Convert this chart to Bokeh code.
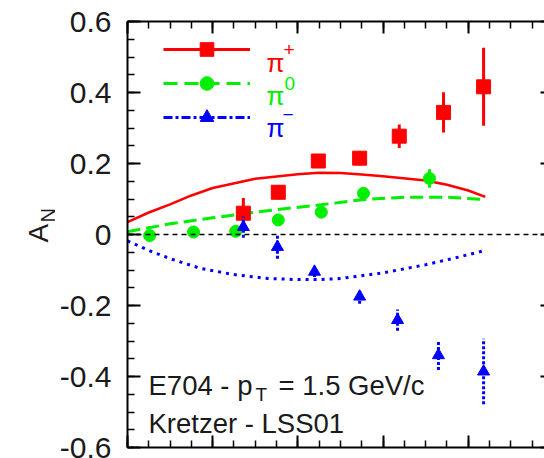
import numpy as np
from bokeh.plotting import figure
from bokeh.layouts import row
from bokeh.models import (Range1d, LinearAxis, FixedTicker, Span, Label,
                          Legend, LegendItem, CustomJSTickFormatter)
from bokeh.embed import file_html
from bokeh.resources import INLINE

# ---------------- data ----------------
pip_x = [0.272, 0.354, 0.448, 0.545, 0.638, 0.742, 0.836]
pip_y = [0.060, 0.119, 0.207, 0.215, 0.277, 0.344, 0.416]
pip_err = [0.043, 0.020, 0.020, 0.020, 0.033, 0.057, 0.110]

pi0_x = [0.052, 0.155, 0.254, 0.354, 0.455, 0.554, 0.709]
pi0_y = [-0.003, 0.007, 0.009, 0.041, 0.063, 0.116, 0.158]
pi0_err = [0.010, 0.010, 0.010, 0.010, 0.010, 0.010, 0.026]

pim_x = [0.272, 0.352, 0.439, 0.545, 0.634, 0.730, 0.836]
pim_y = [0.021, -0.035, -0.105, -0.175, -0.241, -0.340, -0.386]
pim_err = [0.030, 0.033, 0.015, 0.020, 0.030, 0.042, 0.092]

# model curves (Kretzer - LSS01)
curve_pip_x = [0.0, 0.05, 0.10, 0.15, 0.20, 0.30, 0.40, 0.45, 0.50, 0.55, 0.60, 0.70, 0.75, 0.80, 0.84]
curve_pip_y = [0.035, 0.062, 0.085, 0.110, 0.131, 0.157, 0.170, 0.174, 0.173, 0.169, 0.164, 0.152, 0.140, 0.124, 0.106]

curve_pi0_x = [0.0, 0.10, 0.20, 0.30, 0.35, 0.45, 0.55, 0.65, 0.75, 0.83]
curve_pi0_y = [0.008, 0.030, 0.047, 0.063, 0.070, 0.083, 0.098, 0.105, 0.105, 0.099]

curve_pim_x = [0.0, 0.05, 0.10, 0.17, 0.25, 0.33, 0.40, 0.45, 0.50, 0.60, 0.70, 0.78, 0.835]
curve_pim_y = [-0.018, -0.045, -0.068, -0.095, -0.113, -0.124, -0.127, -0.127, -0.124, -0.108, -0.085, -0.063, -0.046]

ytick_values = [-0.6, -0.4, -0.2, 0.0, 0.2, 0.4, 0.6]
ytick_labels = ["-0.6", "-0.4", "-0.2", "0", "0.2", "0.4", "0.6"]
xtick_values = [0.0, 0.2, 0.4, 0.6, 0.8, 1.0]

# ---------------- styling ----------------
RED = "#ff0000"
GREEN = "#00ee00"
BLUE = "#0000ff"
FONT = "Liberation Sans"
TXT = "#1a1a1a"

SIDE_W = 55
p = figure(width=544 - SIDE_W, height=458, output_backend="svg", toolbar_location=None,
           title=None, x_range=Range1d(0.0, 0.979), y_range=Range1d(-0.6, 0.6),
           min_border_left=127 - SIDE_W, min_border_right=0, min_border_top=21,
           min_border_bottom=11, background_fill_color="white",
           border_fill_color="white")
p.outline_line_color = None
p.xgrid.visible = False
p.ygrid.visible = False

yminor = list(np.round(np.arange(-0.6, 0.6001, 0.05), 2))
xminor = list(np.round(np.arange(0.0, 1.0001, 0.05), 2))
blank = CustomJSTickFormatter(code="return ''")


def style_axis(ax, ticks, minor, labels=False, line=True, major_in=12, minor_in=7):
    ax.ticker = FixedTicker(ticks=ticks, minor_ticks=minor)
    ax.axis_line_color = "black" if line else None
    ax.axis_line_width = 2
    ax.major_tick_in = major_in
    ax.major_tick_out = 0
    ax.minor_tick_in = minor_in
    ax.minor_tick_out = 0
    ax.major_tick_line_width = 2
    ax.minor_tick_line_width = 1.5
    ax.major_tick_line_color = "black"
    ax.minor_tick_line_color = "black" if minor_in > 0 else None
    if not labels:
        ax.formatter = blank
        ax.major_label_text_font_size = "1px"
        ax.major_label_standoff = 0


# left axis (with labels)
yax = p.yaxis[0]
style_axis(yax, ytick_values, yminor, labels=True, major_in=13, minor_in=7)
yax.major_label_overrides = {v: s for v, s in zip(ytick_values, ytick_labels)}
yax.major_label_text_font = FONT
yax.major_label_text_font_size = "30px"
yax.major_label_text_color = TXT
yax.major_label_standoff = 16

# bottom axis
style_axis(p.xaxis[0], xtick_values, xminor)

# top axis
top = LinearAxis()
style_axis(top, xtick_values, xminor)
p.add_layout(top, "above")

# right axis (only the inner ends of major ticks are visible)
right = LinearAxis()
style_axis(right, ytick_values, yminor, line=False, major_in=4, minor_in=0)
p.add_layout(right, "right")

# ---------------- model curves ----------------
p.line(curve_pip_x, curve_pip_y, line_color=RED, line_width=2.5)
p.line(curve_pi0_x, curve_pi0_y, line_color=GREEN, line_width=3, line_dash="13 6")
p.line(curve_pim_x, curve_pim_y, line_color=BLUE, line_width=3, line_dash="3 5")

# ---------------- data with error bars ----------------
def bars(x, y, e):
    x = np.array(x); y = np.array(y); e = np.array(e)
    return dict(x0=x, x1=x, y0=y - e, y1=y + e)

p.segment(**bars(pi0_x, pi0_y, pi0_err), line_color=GREEN, line_width=3)
p.scatter(pi0_x, pi0_y, marker="circle", size=12, fill_color=GREEN, line_color=GREEN)

p.segment(**bars(pip_x, pip_y, pip_err), line_color=RED, line_width=3)
p.scatter(pip_x, pip_y, marker="square", size=14, fill_color=RED, line_color=RED)

p.segment(**bars(pim_x, pim_y, pim_err), line_color=BLUE, line_width=3, line_dash="3 2")
p.scatter(pim_x, pim_y, marker="triangle", size=12, fill_color=BLUE, line_color=BLUE)

# zero line
p.add_layout(Span(location=0, dimension="width", line_color="black",
                  line_width=1.5, line_dash="5 4"))

# ---------------- legend (proxy renderers that draw nothing in the plot) ----------------
nan = [float("nan")]
lp = p.line(nan, nan, line_color=RED, line_width=3)
mp = p.scatter(nan, nan, marker="square", fill_color=RED, line_color=RED)
l0 = p.line(nan, nan, line_color=GREEN, line_width=3, line_dash="14 7")
m0 = p.scatter(nan, nan, marker="circle", fill_color=GREEN, line_color=GREEN)
lm = p.line(nan, nan, line_color=BLUE, line_width=3, line_dash="9 3 3 3")
mm = p.scatter(nan, nan, marker="triangle", fill_color=BLUE, line_color=BLUE)

legend = Legend(items=[LegendItem(label=" ", renderers=[lp, mp]),
                       LegendItem(label=" ", renderers=[l0, m0]),
                       LegendItem(label=" ", renderers=[lm, mm])],
                location=(36, 313), glyph_width=87, glyph_height=34,
                spacing=0, padding=0, margin=0, border_line_color=None,
                background_fill_alpha=0, label_text_font_size="1px",
                label_standoff=0, label_width=1, label_height=1)
p.add_layout(legend, "center")


def lab(fig, x, y, text, size, color=TXT, angle=0):
    fig.add_layout(Label(x=x, y=y, x_units="screen", y_units="screen", text=text,
                         text_font=FONT, text_font_size=size, text_color=color,
                         text_baseline="alphabetic", text_align="left",
                         angle=angle, angle_units="deg"))

# legend labels
lab(p, 139, 385, "\u03c0", "26px", RED)
lab(p, 156, 398, "+", "19px", RED)
lab(p, 139, 352, "\u03c0", "26px", GREEN)
lab(p, 157, 364, "0", "19px", GREEN)
lab(p, 139, 320, "\u03c0", "26px", BLUE)
lab(p, 155, 333, "\u2212", "19px", BLUE)

# annotation text
lab(p, 21, 62, "E704 - p", "27.5px")
lab(p, 128, 53, "T", "19px")
lab(p, 151, 62, "= 1.5 GeV/c", "27.5px")
lab(p, 21, 24, "Kretzer - LSS01", "27.5px")

# ---------------- y-axis title A_N in a narrow strip on the left ----------------
side = figure(width=SIDE_W, height=458, output_backend="svg", toolbar_location=None,
              title=None, x_axis_type=None, y_axis_type=None,
              x_range=Range1d(0, 1), y_range=Range1d(0, 1),
              min_border_left=0, min_border_right=0, min_border_top=0,
              min_border_bottom=0, background_fill_color="white",
              border_fill_color="white")
side.outline_line_color = None
side.xgrid.visible = False
side.ygrid.visible = False
lab(side, 38, 205, "A", "28px", angle=90)
lab(side, 47, 225, "N", "20px", angle=90)

layout = row(side, p, spacing=0)
open("out.html", "w").write(file_html(layout, INLINE))
